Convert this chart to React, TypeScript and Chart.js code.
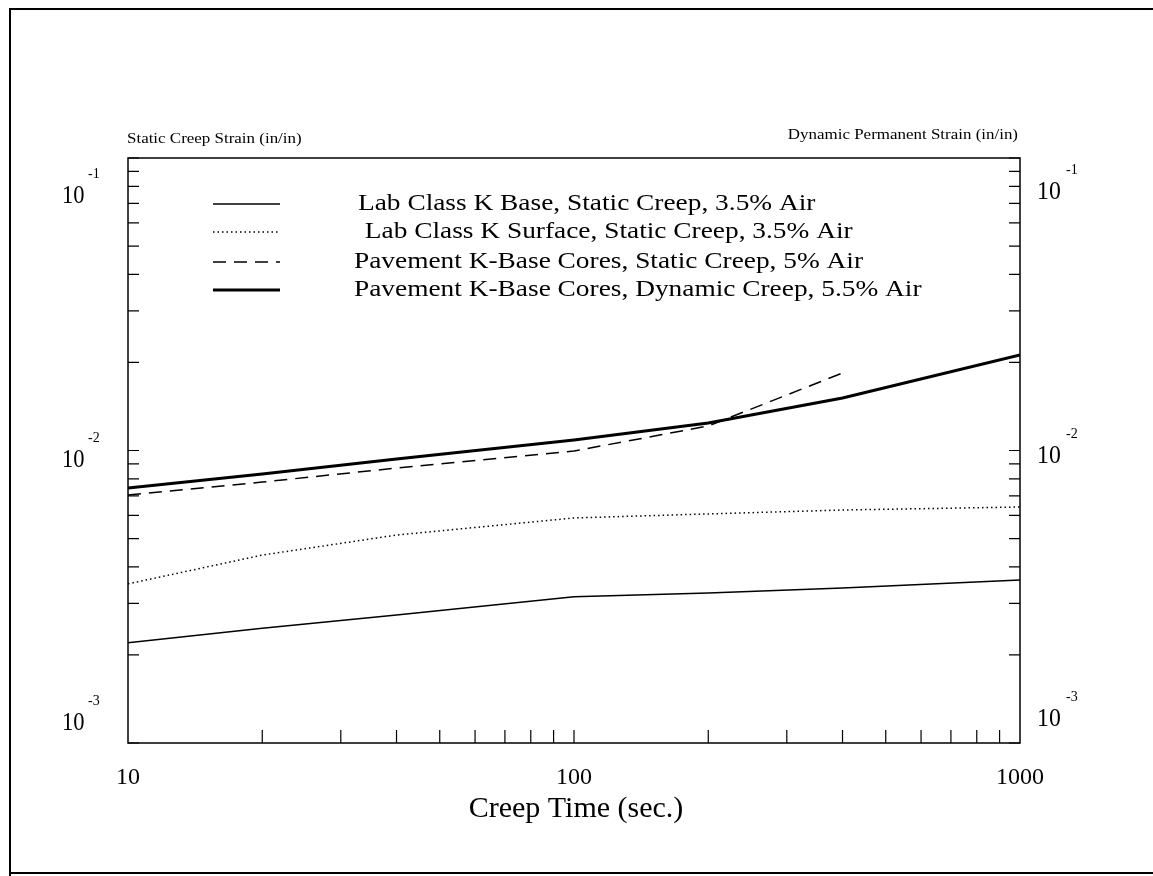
import React, { useEffect, useRef } from "react";
import { Chart, registerables } from "chart.js";

Chart.register(...registerables);

const creepTimes = [10, 20, 40, 100, 200, 400, 1000];
const labBaseStatic = [0.0022, 0.00247, 0.00274, 0.00316, 0.00326, 0.00339, 0.00361];
const labSurfaceStatic = [0.0035, 0.00439, 0.00514, 0.00588, 0.00607, 0.00626, 0.00641];
const pavementStaticTimes = [10, 20, 40, 100, 200, 400];
const pavementStatic = [0.00705, 0.0078, 0.00871, 0.00996, 0.01213, 0.01841];
const pavementDynamic = [0.00744, 0.00831, 0.00935, 0.01086, 0.01242, 0.01512, 0.02121];

const seriesNames = [
  "Lab Class K Base, Static Creep, 3.5% Air",
  " Lab Class K Surface, Static Creep, 3.5% Air",
  "Pavement K-Base Cores, Static Creep, 5% Air",
  "Pavement K-Base Cores, Dynamic Creep, 5.5% Air",
];
const xTickLabels = ["10", "100", "1000"];
const xTickValues = [10, 100, 1000];
const yTickValues = [0.1, 0.01, 0.001];
const yTickExponents = ["-1", "-2", "-3"];
const leftAxisTitle = "Static Creep Strain (in/in)";
const rightAxisTitle = "Dynamic Permanent Strain (in/in)";
const xAxisTitle = "Creep Time (sec.)";

const SERIF = '"Liberation Serif", "Times New Roman", serif';

const pts = (xs: number[], ys: number[]) => ys.map((y, i) => ({ x: xs[i], y }));

function stretchText(
  ctx: CanvasRenderingContext2D,
  text: string,
  x: number,
  y: number,
  sx: number,
  align: "left" | "center" | "right"
) {
  ctx.save();
  ctx.textAlign = "left";
  ctx.textBaseline = "middle";
  const w = ctx.measureText(text).width * sx;
  const x0 = align === "center" ? x - w / 2 : align === "right" ? x - w : x;
  ctx.translate(x0, y);
  ctx.scale(sx, 1);
  ctx.fillText(text, 0, 0);
  ctx.restore();
}

const decorPlugin = {
  id: "decor",
  afterDraw(chart: any) {
    const ctx = chart.ctx as CanvasRenderingContext2D;
    const { left, right, top, bottom } = chart.chartArea;
    const xs = chart.scales.x;
    const ys = chart.scales.y;
    ctx.save();
    ctx.strokeStyle = "#000";
    ctx.fillStyle = "#000";

    // outer page frame
    ctx.lineWidth = 2;
    ctx.beginPath();
    ctx.moveTo(10, 876);
    ctx.lineTo(10, 9);
    ctx.lineTo(1153, 9);
    ctx.moveTo(10, 873);
    ctx.lineTo(1153, 873);
    ctx.stroke();

    // plot frame
    ctx.lineWidth = 1.5;
    ctx.strokeRect(left, top, right - left, bottom - top);

    // y ticks (inward, both sides)
    ctx.lineWidth = 1.2;
    const yMin = ys.min, yMax = ys.max;
    for (let e = Math.floor(Math.log10(yMin)); e <= Math.ceil(Math.log10(yMax)); e++) {
      for (let k = 1; k <= 9; k++) {
        const v = k * Math.pow(10, e);
        if (v < yMin * 0.999 || v > yMax * 1.001) continue;
        const p = ys.getPixelForValue(v);
        ctx.beginPath();
        ctx.moveTo(left, p);
        ctx.lineTo(left + 11, p);
        ctx.moveTo(right, p);
        ctx.lineTo(right - 11, p);
        ctx.stroke();
      }
    }
    // x ticks (inward, bottom)
    const xMin = xs.min, xMax = xs.max;
    for (let e = Math.floor(Math.log10(xMin)); e <= Math.ceil(Math.log10(xMax)); e++) {
      for (let k = 1; k <= 9; k++) {
        const v = k * Math.pow(10, e);
        if (v <= xMin * 1.001 || v >= xMax * 0.999) continue;
        const p = xs.getPixelForValue(v);
        ctx.beginPath();
        ctx.moveTo(p, bottom);
        ctx.lineTo(p, bottom - 13);
        ctx.stroke();
      }
    }

    // x tick labels
    ctx.font = `24px ${SERIF}`;
    xTickValues.forEach((v, i) => {
      stretchText(ctx, xTickLabels[i], xs.getPixelForValue(v), bottom + 35, 1, "center");
    });
    // x title
    ctx.font = `30px ${SERIF}`;
    stretchText(ctx, xAxisTitle, (left + right) / 2 + 2, bottom + 66, 1, "center");

    // y tick labels (10 with superscript exponent), both sides
    yTickValues.forEach((v, i) => {
      const p = Math.min(Math.max(ys.getPixelForValue(v) + 10, top + 38), bottom - 20);
      ctx.font = `25px ${SERIF}`;
      stretchText(ctx, "10", left - 66, p, 0.9, "left");
      stretchText(ctx, "10", right + 17, p - 4, 0.95, "left");
      ctx.font = `14px ${SERIF}`;
      stretchText(ctx, yTickExponents[i], left - 40, p - 22, 1, "left");
      stretchText(ctx, yTickExponents[i], right + 46, p - 26, 1, "left");
    });

    // axis titles above plot
    ctx.font = `15px ${SERIF}`;
    stretchText(ctx, leftAxisTitle, left - 1, top - 19, 1.13, "left");
    stretchText(ctx, rightAxisTitle, right - 2, top - 23, 1.13, "right");

    // legend
    const rows = [204, 232, 262, 290];
    const textX = [358, 358, 354, 354];
    chart.data.datasets.forEach((ds: any, i: number) => {
      const y = rows[i];
      ctx.save();
      ctx.strokeStyle = "#000";
      ctx.lineWidth = ds.borderWidth;
      ctx.setLineDash(ds.borderDash || []);
      ctx.beginPath();
      ctx.moveTo(213, y);
      ctx.lineTo(280, y);
      ctx.stroke();
      ctx.restore();
      ctx.font = `24px ${SERIF}`;
      stretchText(ctx, ds.label, textX[i], y, 1.14, "left");
    });
    ctx.restore();
  },
};

export default function App() {
  const ref = useRef<HTMLCanvasElement>(null);
  useEffect(() => {
    if (!ref.current) return;
    const chart = new Chart(ref.current, {
      type: "line",
      data: {
        datasets: [
          {
            label: seriesNames[0],
            data: pts(creepTimes, labBaseStatic),
            borderColor: "#000",
            borderWidth: 1.5,
            pointRadius: 0,
            tension: 0,
          },
          {
            label: seriesNames[1],
            data: pts(creepTimes, labSurfaceStatic),
            borderColor: "#000",
            borderWidth: 1.5,
            borderDash: [1.5, 3],
            pointRadius: 0,
            tension: 0,
          },
          {
            label: seriesNames[2],
            data: pts(pavementStaticTimes, pavementStatic),
            borderColor: "#000",
            borderWidth: 1.5,
            borderDash: [13, 8],
            pointRadius: 0,
            tension: 0,
          },
          {
            label: seriesNames[3],
            data: pts(creepTimes, pavementDynamic),
            borderColor: "#000",
            borderWidth: 3,
            pointRadius: 0,
            tension: 0,
          },
        ],
      },
      options: {
        responsive: false,
        animation: false,
        devicePixelRatio: 1,
        layout: { padding: { left: 128, right: 133, top: 158, bottom: 133 } },
        plugins: { legend: { display: false }, tooltip: { enabled: false } },
        scales: {
          x: { type: "logarithmic", min: 10, max: 1000, display: false },
          y: { type: "logarithmic", min: 0.001, max: 0.1, display: false },
        },
      },
      plugins: [decorPlugin],
    });
    return () => chart.destroy();
  }, []);
  return (
    <div style={{ position: "fixed", left: 0, top: 0, width: 1153, height: 876, background: "#fff" }}>
      <canvas ref={ref} width={1153} height={876} />
    </div>
  );
}
